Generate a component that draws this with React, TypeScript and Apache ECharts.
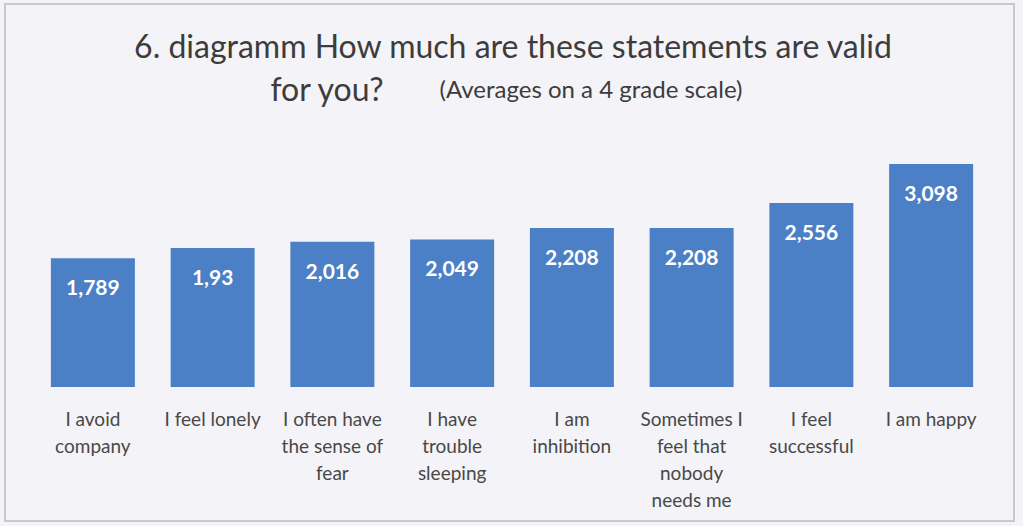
import React, { useEffect, useRef } from "react";
import * as echarts from "echarts";

const categories: string[] = [
  "I avoid\ncompany",
  "I feel lonely",
  "I often have\nthe sense of\nfear",
  "I have\ntrouble\nsleeping",
  "I am\ninhibition",
  "Sometimes I\nfeel that\nnobody\nneeds me",
  "I feel\nsuccessful",
  "I am happy",
];
const averages: number[] = [1.789, 1.93, 2.016, 2.049, 2.208, 2.208, 2.556, 3.098];

const titleLine1 = "6. diagramm How much are these statements are valid";
const titleLine2a = "for you?";
const titleLine2b = "(Averages on a 4 grade scale)";

const FONT = "Lato, 'Noto Sans', sans-serif";

export default function App() {
  const ref = useRef<HTMLDivElement>(null);
  useEffect(() => {
    document.body.style.margin = "0";
    document.body.style.background = "#f4f3f8";
    const chart = echarts.init(ref.current!, null, { renderer: "svg" });
    chart.setOption({
      animation: false,
      backgroundColor: "#f4f3f8",
      graphic: [
        {
          type: "rect",
          shape: { x: 5, y: 4, width: 1009, height: 517 },
          style: { fill: "none", stroke: "#c9c8cd", lineWidth: 2 },
          silent: true,
        },
        {
          type: "text",
          x: 513,
          y: 45,
          style: {
            text: titleLine1,
            font: `32px ${FONT}`,
            fill: "#3c3c3c",
            align: "center",
            verticalAlign: "middle",
          },
        },
        {
          type: "text",
          x: 327,
          y: 88,
          style: {
            text: titleLine2a,
            font: `32px ${FONT}`,
            fill: "#3c3c3c",
            align: "center",
            verticalAlign: "middle",
          },
        },
        {
          type: "text",
          x: 591,
          y: 88,
          style: {
            text: titleLine2b,
            font: `24px ${FONT}`,
            fill: "#3c3c3c",
            align: "center",
            verticalAlign: "middle",
          },
        },
      ],
      grid: { left: 33, right: 32, top: 135, bottom: 139, containLabel: false },
      xAxis: {
        type: "category",
        data: categories,
        axisLine: { show: false },
        axisTick: { show: false },
        axisLabel: {
          interval: 0,
          margin: 18,
          color: "#484848",
          fontSize: 19,
          lineHeight: 27,
          fontFamily: FONT,
          verticalAlign: "top",
        },
      },
      yAxis: {
        type: "value",
        min: 0,
        max: 3.5,
        show: false,
        splitLine: { show: false },
      },
      series: [
        {
          type: "bar",
          data: averages,
          barWidth: 84,
          itemStyle: { color: "#4b7fc6" },
          label: {
            show: true,
            position: "insideTop",
            distance: 18,
            color: "#ffffff",
            fontSize: 21,
            fontWeight: "bold",
            fontFamily: FONT,
            formatter: (p: any) => String(p.value).replace(".", ","),
          },
        },
      ],
    });
    return () => chart.dispose();
  }, []);
  return <div ref={ref} style={{ width: 1023, height: 526 }} />;
}
